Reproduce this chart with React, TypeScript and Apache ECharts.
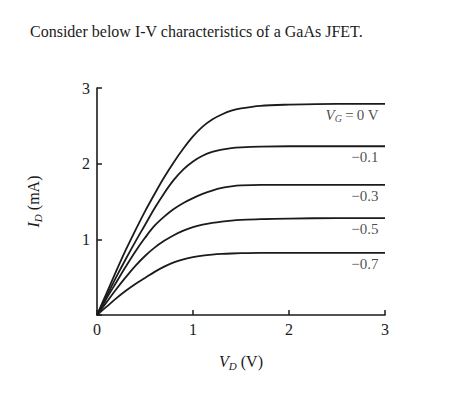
import React, { useEffect, useRef } from "react";
import * as echarts from "echarts";

const vd = [0, 0.1, 0.2, 0.3, 0.4, 0.5, 0.6, 0.7, 0.8, 0.9, 1.0, 1.1, 1.2, 1.3, 1.4, 1.5, 1.7, 2.0, 2.5, 3.0];
const id0 = [0, 0.29, 0.58, 0.86, 1.12, 1.37, 1.6, 1.82, 2.02, 2.2, 2.36, 2.49, 2.585, 2.65, 2.7, 2.73, 2.765, 2.78, 2.79, 2.79];
const id01 = [0, 0.25, 0.5, 0.74, 0.97, 1.19, 1.41, 1.61, 1.785, 1.925, 2.03, 2.105, 2.155, 2.185, 2.205, 2.215, 2.225, 2.23, 2.23, 2.23];
const id03 = [0, 0.22, 0.43, 0.64, 0.84, 1.02, 1.18, 1.3, 1.4, 1.48, 1.545, 1.6, 1.645, 1.68, 1.7, 1.712, 1.72, 1.72, 1.72, 1.72];
const id05 = [0, 0.17, 0.34, 0.5, 0.65, 0.78, 0.89, 0.98, 1.055, 1.115, 1.16, 1.193, 1.217, 1.235, 1.248, 1.257, 1.268, 1.275, 1.28, 1.28];
const id07 = [0, 0.11, 0.22, 0.32, 0.41, 0.49, 0.57, 0.64, 0.695, 0.735, 0.765, 0.785, 0.798, 0.807, 0.813, 0.817, 0.82, 0.82, 0.82, 0.82];
const curves = [id0, id01, id03, id05, id07];
const gateLabels = ["{i|V}{sub|G}{n|\u2009=\u20090 V}", "\u22120.1", "\u22120.3", "\u22120.5", "\u22120.7"];
const xTicks = ["0", "1", "2", "3"];
const yTicks = ["0", "1", "2", "3"];
const title = "Consider below I-V characteristics of a GaAs JFET.";

const INK = "#1b1b1b";
const SERIF = "'Liberation Serif', 'DejaVu Serif', serif";

export default function App() {
  const ref = useRef<HTMLDivElement>(null);
  useEffect(() => {
    if (!ref.current) return;
    const chart = echarts.init(ref.current, undefined, { renderer: "svg" });
    const lineSeries = curves.map((c, k) => ({
      type: "line",
      name: gateLabels[k],
      data: vd.map((v, i) => [v, c[i]]),
      smooth: 0.35,
      symbol: "none",
      lineStyle: { color: INK, width: 1.8 },
      z: 3,
    }));
    const labelSeries = {
      type: "scatter",
      data: curves.map((c, k) => ({ value: [vd[vd.length - 1], c[c.length - 1]], name: gateLabels[k] })),
      symbolSize: 1,
      itemStyle: { color: "rgba(0,0,0,0)" },
      label: {
        show: true,
        position: "left",
        distance: 6,
        offset: [0, 11],
        formatter: (p: any) => p.name,
        color: INK,
        fontFamily: SERIF,
        fontSize: 15,
        rich: {
          i: { fontFamily: SERIF, fontStyle: "italic", fontSize: 15, color: INK },
          sub: { fontFamily: SERIF, fontStyle: "italic", fontSize: 10, color: INK, padding: [8, 0, 0, 0] },
          n: { fontFamily: SERIF, fontSize: 15, color: INK },
        },
      },
      z: 4,
    };
    chart.setOption({
      animation: false,
      backgroundColor: "#ffffff",
      grid: { left: 97, right: 86, top: 88, bottom: 96 },
      xAxis: {
        type: "value",
        min: 0,
        max: 3,
        interval: 1,
        name: "{i|V}{sub|D}{n| (V)}",
        nameLocation: "middle",
        nameGap: 37,
        nameTextStyle: {
          rich: {
            i: { fontFamily: SERIF, fontStyle: "italic", fontSize: 16, color: INK },
            sub: { fontFamily: SERIF, fontStyle: "italic", fontSize: 11, color: INK, padding: [8, 0, 0, 0] },
            n: { fontFamily: SERIF, fontSize: 16, color: INK },
          },
        },
        axisLine: { show: true, onZero: false, lineStyle: { color: INK, width: 1.6 } },
        axisTick: { show: true, inside: true, length: 5, lineStyle: { color: INK, width: 1.5 } },
        axisLabel: {
          margin: 6,
          color: INK,
          fontFamily: SERIF,
          fontSize: 16,
          formatter: (v: number) => xTicks[Math.round(v)],
        },
        splitLine: { show: false },
      },
      yAxis: {
        type: "value",
        min: 0,
        max: 3,
        interval: 1,
        name: "{i|I}{sub|D}{n| (mA)}",
        nameLocation: "middle",
        nameRotate: 90,
        nameGap: 54,
        nameTextStyle: {
          rich: {
            i: { fontFamily: SERIF, fontStyle: "italic", fontSize: 16, color: INK },
            sub: { fontFamily: SERIF, fontStyle: "italic", fontSize: 11, color: INK, padding: [8, 0, 0, 0] },
            n: { fontFamily: SERIF, fontSize: 16, color: INK },
          },
        },
        axisLine: { show: true, onZero: false, lineStyle: { color: INK, width: 1.6 } },
        axisTick: { show: true, inside: true, length: 5, lineStyle: { color: INK, width: 1.5 } },
        axisLabel: {
          margin: 7,
          color: INK,
          fontFamily: SERIF,
          fontSize: 16,
          formatter: (v: number) => (v === 0 ? "" : yTicks[Math.round(v)]),
        },
        splitLine: { show: false },
      },
      graphic: [
        {
          type: "text",
          left: 30,
          top: 23,
          style: { text: title, fill: INK, font: `16px ${SERIF}` },
        },
      ],
      series: [...lineSeries, labelSeries],
    });
    return () => chart.dispose();
  }, []);
  return (
    <div
      ref={ref}
      style={{ position: "fixed", left: 0, top: 0, width: 471, height: 411, background: "#fff" }}
    />
  );
}
